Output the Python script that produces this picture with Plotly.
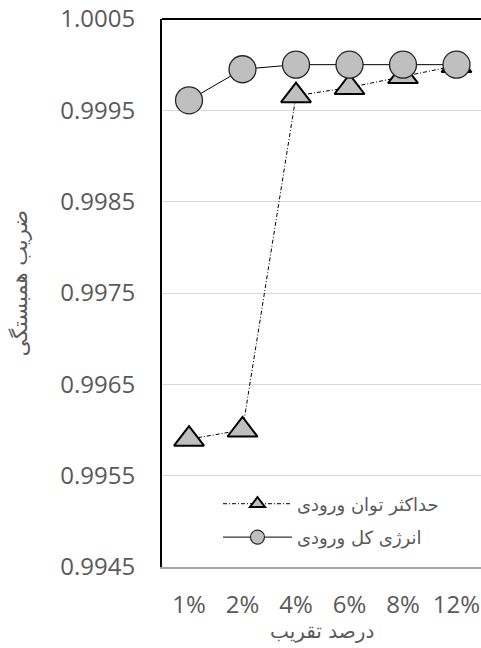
import plotly.graph_objects as go

# Approximation levels (x categories)
categories = ["1%", "2%", "4%", "6%", "8%", "12%"]

# Correlation coefficient for each method
peak_power = [0.9959, 0.9960, 0.99966, 0.99975, 0.99987, 0.99999]
total_energy = [0.99961, 0.99995, 1.0000, 1.0000, 1.0000, 1.0000]

y_ticks = [0.9945, 0.9955, 0.9965, 0.9975, 0.9985, 0.9995, 1.0005]
y_tick_text = ["0.9945", "0.9955", "0.9965", "0.9975", "0.9985", "0.9995", "1.0005"]

series_peak_name = "حداکثر توان ورودی"
series_energy_name = "انرژی کل ورودی"
x_title = "درصد تقریب"
y_title = "ضریب همبستگی"

num_font = "Open Sans, Liberation Sans, sans-serif"
fa_font = "DejaVu Sans, Noto Sans, sans-serif"
fill = "#BFBFBF"
text_grey = "#595959"

peak_line = dict(color="black", width=1, dash="4px,2px,1px,2px")
energy_line = dict(color="black", width=1)

fig = go.Figure()

# data series
fig.add_trace(go.Scatter(
    x=categories, y=peak_power, name=series_peak_name,
    mode="lines+markers", showlegend=False,
    line=peak_line,
    marker=dict(symbol="triangle-up", size=26, color=fill,
                line=dict(color="black", width=2)),
))
fig.add_trace(go.Scatter(
    x=categories, y=total_energy, name=series_energy_name,
    mode="lines+markers", showlegend=False,
    line=energy_line,
    marker=dict(symbol="circle", size=27, color=fill,
                line=dict(color="#262626", width=1.3)),
))

# legend entries with smaller symbols
fig.add_trace(go.Scatter(
    x=[None], y=[None], name=series_peak_name, legendgroup="a",
    mode="lines+markers", line=peak_line,
    marker=dict(symbol="triangle-up", size=13, color=fill,
                line=dict(color="black", width=2)),
))
fig.add_trace(go.Scatter(
    x=[None], y=[None], name=series_energy_name, legendgroup="b",
    mode="lines+markers", line=energy_line,
    marker=dict(symbol="circle", size=14, color=fill,
                line=dict(color="#262626", width=1.2)),
))

fig.update_layout(
    width=481, height=648,
    margin=dict(l=162, r=0, t=19, b=81),
    paper_bgcolor="white", plot_bgcolor="white",
    showlegend=True,
    legend=dict(
        x=0.1755, y=0.1487, xanchor="left", yanchor="top",
        bgcolor="rgba(0,0,0,0)", traceorder="grouped", tracegroupgap=7,
        itemwidth=69,
        font=dict(family=fa_font, size=18, color=text_grey),
    ),
    xaxis=dict(
        type="category", categoryorder="array", categoryarray=categories,
        range=[-0.505, 5.458],
        showgrid=False, zeroline=False,
        showline=True, linecolor="#A6A6A6", linewidth=1.5,
        ticks="", ticklabelstandoff=15,
        tickfont=dict(family=num_font, size=24, color=text_grey),
    ),
    yaxis=dict(
        range=[0.9945, 1.0005],
        tickmode="array", tickvals=y_ticks, ticktext=y_tick_text,
        showgrid=True, gridcolor="#D9D9D9", gridwidth=1,
        zeroline=False,
        showline=True, linecolor="black", linewidth=2,
        ticks="", ticklabelstandoff=20,
        tickfont=dict(family=num_font, size=24, color=text_grey),
    ),
    shapes=[dict(type="line", xref="paper", yref="paper",
                 x0=0, x1=1, y0=1, y1=1,
                 line=dict(color="black", width=2))],
    annotations=[
        dict(text=x_title, xref="paper", yref="paper", x=0.5, y=-0.116,
             xanchor="center", yanchor="middle", showarrow=False,
             font=dict(family=fa_font, size=20, color=text_grey)),
        dict(text=y_title, xref="paper", yref="paper", x=-0.445, y=0.518,
             xanchor="center", yanchor="middle", showarrow=False, textangle=-90,
             font=dict(family=fa_font, size=21, color=text_grey)),
    ],
)

fig.write_html("out.html")
